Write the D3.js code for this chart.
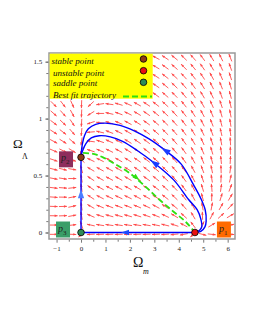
<!DOCTYPE html>
<html>
<head>
<meta charset="utf-8">
<script src="https://cdn.jsdelivr.net/npm/d3@7"></script>
<style>
  body { margin: 0; background: #fff; }
  svg { display: block; }
</style>
</head>
<body>
<div id="chart"></div>
<script>
// tick values
const xTicks = [-1, 0, 1, 2, 3, 4, 5, 6];
const yTicks = [0, 0.5, 1, 1.5];
const yTickLabels = ['0', '0.5', '1', '1.5'];

// critical points: p1 unstable, p2 stable, p3 saddle
const pointNames = ['1', '2', '3'];
const pointX = [4.66, 0, 0];
const pointY = [0, 0.66, 0];
const pointKind = ['unstable', 'stable', 'saddle'];

const legendLabels = ['stable point', 'unstable point', 'saddle point', 'Best fit trajectory'];

// trajectories
const outerX = [4.66, 4.9, 5.07, 5.12, 5.08, 4.9, 4.6, 4.1, 3.45, 2.8, 2.2, 1.6, 1.0, 0.6, 0.3, 0.14, 0.05, 0.01, 0];
const outerY = [0, 0.01, 0.05, 0.1, 0.2, 0.3, 0.42, 0.6, 0.72, 0.82, 0.89, 0.94, 0.96, 0.95, 0.91, 0.85, 0.77, 0.7, 0.66];
const innerX = [4.66, 4.85, 4.94, 4.9, 4.75, 4.4, 3.8, 3.0, 2.3, 1.7, 1.2, 0.75, 0.42, 0.2, 0.07, 0.01, 0];
const innerY = [0, 0.02, 0.05, 0.12, 0.2, 0.29, 0.46, 0.61, 0.72, 0.8, 0.84, 0.85, 0.83, 0.78, 0.72, 0.68, 0.66];
const fitX = [0.08, 0.5, 0.9, 1.4, 2.0, 2.6, 3.2, 3.8, 4.3, 4.66];
const fitY = [0.7, 0.69, 0.66, 0.6, 0.52, 0.41, 0.29, 0.18, 0.09, 0];
const baseX = [4.66, 0];
const baseY = [0, 0];
const sideX = [0, 0];
const sideY = [0, 0.66];

// field parameters of the planar system
const fieldA = 4.7, fieldB = 2, fieldC = 0.65, fieldD = 0.5, fieldS = 0.6;
function field(m, l) {
    return [fieldS * m * (m - fieldA - fieldB * l), l * (fieldC - l + fieldD * m)];
}

const width = 255;
const height = 330;

const x = d3.scaleLinear().domain([-1.31, 6.3]).range([49, 235]);
const y = d3.scaleLinear().domain([-0.057, 1.576]).range([239, 53]);

const svg = d3.select('#chart')
    .append('svg')
        .attr('width', width)
        .attr('height', height);

// direction field
const nGrid = 20;
const gx = d3.range(nGrid).map(i => x.domain()[0] + (i + 0.5) * (x.domain()[1] - x.domain()[0]) / nGrid);
const gy = d3.range(nGrid).map(i => y.domain()[0] + (i + 0.5) * (y.domain()[1] - y.domain()[0]) / nGrid);
const cells = [];
gx.forEach(m => gy.forEach(l => cells.push({ m, l })));

const quiver = svg.append('g');
const len = 8;
cells.forEach(c => {
    const f = field(c.m, c.l);
    let dx = x(c.m + f[0]) - x(c.m);
    let dy = y(c.l + f[1]) - y(c.l);
    const n = Math.hypot(dx, dy) || 1;
    dx /= n; dy /= n;
    const cx = x(c.m), cy = y(c.l);
    const x0 = cx - dx * len / 2, y0 = cy - dy * len / 2;
    const x1 = cx + dx * len / 2, y1 = cy + dy * len / 2;
    quiver.append('line')
        .attr('x1', x0).attr('y1', y0)
        .attr('x2', x1).attr('y2', y1)
        .attr('stroke', '#ff4848')
        .attr('stroke-width', 0.9);
    const px = -dy, py = dx;
    quiver.append('path')
        .attr('d', `M${x1},${y1}L${x1 - dx * 3 + px * 1.2},${y1 - dy * 3 + py * 1.2}L${x1 - dx * 3 - px * 1.2},${y1 - dy * 3 - py * 1.2}Z`)
        .attr('fill', '#ff4848');
});

const line = d3.line()
    .x(d => x(d[0]))
    .y(d => y(d[1]))
    .curve(d3.curveCatmullRom);

function zip(a, b) { return a.map((v, i) => [v, b[i]]); }

function arrowHead(g, p, q, colour, size) {
    const x0 = x(p[0]), y0 = y(p[1]);
    let dx = x(q[0]) - x0, dy = y(q[1]) - y0;
    const n = Math.hypot(dx, dy);
    dx /= n; dy /= n;
    const px = -dy, py = dx;
    const tx = x0 + dx * size, ty = y0 + dy * size;
    g.append('path')
        .attr('d', `M${tx},${ty}L${x0 - dx * size + px * size * 0.7},${y0 - dy * size + py * size * 0.7}L${x0 - dx * size - px * size * 0.7},${y0 - dy * size - py * size * 0.7}Z`)
        .attr('fill', colour);
}

const traj = svg.append('g');

// green best fit trajectory
traj.append('path')
    .attr('d', line(zip(fitX, fitY)))
    .attr('fill', 'none')
    .attr('stroke', '#2ee010')
    .attr('stroke-width', 1.8)
    .attr('stroke-dasharray', '6,3');
arrowHead(traj, [2.28, 0.48], [2.5, 0.44], '#2ee010', 3.5);

[[baseX, baseY], [sideX, sideY], [outerX, outerY], [innerX, innerY]].forEach(t => {
    traj.append('path')
        .attr('d', line(zip(t[0], t[1])))
        .attr('fill', 'none')
        .attr('stroke', '#0000ff')
        .attr('stroke-width', 1.4);
});
arrowHead(traj, [1.8, 0], [1.0, 0], '#1a4cff', 4);
arrowHead(traj, [0, 0.34], [0, 0.5], '#4a7cff', 4.5);
arrowHead(traj, [3.45, 0.72], [3.0, 0.78], '#1a3cff', 4.5);
arrowHead(traj, [3.0, 0.61], [2.6, 0.67], '#1a3cff', 4.5);

// frame
svg.append('rect')
    .attr('x', 49).attr('y', 53)
    .attr('width', 186).attr('height', 186)
    .attr('fill', 'none')
    .attr('stroke', '#999')
    .attr('stroke-width', 1.5);

// axes
svg.append('g')
    .attr('transform', 'translate(0,239.7)')
    .call(d3.axisBottom(x).tickValues(xTicks).tickSize(3).tickFormat(d3.format('d')));
svg.append('g')
    .attr('transform', 'translate(0,239.7)')
    .call(d3.axisBottom(x).tickValues(d3.range(-1, 6.1, 0.5).filter(v => v % 1 !== 0)).tickSize(2).tickFormat(''));
svg.append('g')
    .attr('transform', 'translate(48.3,0)')
    .call(d3.axisLeft(y).tickValues(yTicks).tickSize(3).tickFormat((d, i) => yTickLabels[i]));
svg.append('g')
    .attr('transform', 'translate(48.3,0)')
    .call(d3.axisLeft(y).tickValues(d3.range(0, 1.55, 0.1)).tickSize(2).tickFormat(''));
svg.selectAll('.domain').remove();
svg.selectAll('.tick line').attr('stroke', '#555').attr('stroke-width', 0.8);
svg.selectAll('.tick text')
    .attr('font-family', 'Liberation Serif')
    .attr('font-size', 7)
    .attr('fill', '#222');

// point labels
const boxColour = { '1': '#ff6a00', '2': '#8e2d5c', '3': '#3a9e68' };
const boxOffset = { '1': [22, -11], '2': [-22, -6], '3': [-25, -11] };
const labels = svg.append('g');
pointNames.forEach((name, i) => {
    const bx = x(pointX[i]) + boxOffset[name][0];
    const by = y(pointY[i]) + boxOffset[name][1];
    labels.append('rect')
        .attr('x', bx).attr('y', by)
        .attr('width', 14).attr('height', 16)
        .attr('fill', boxColour[name]);
    const t = labels.append('text')
        .attr('x', bx + 2).attr('y', by + 10)
        .attr('font-family', 'Liberation Serif')
        .attr('font-style', 'italic')
        .attr('font-size', 10)
        .attr('fill', '#222');
    t.append('tspan').text('p');
    t.append('tspan').attr('dy', 3).attr('font-size', 7).attr('font-style', 'normal').text(name);
});

// critical points
const kindColour = { stable: '#8b3a14', unstable: '#e81010', saddle: '#2e8b57' };
svg.append('g').selectAll('circle')
    .data(pointX)
    .enter()
        .append('circle')
            .attr('cx', (d) => x(d))
            .attr('cy', (d, i) => y(pointY[i]))
            .attr('r', 3.3)
            .attr('fill', (d, i) => kindColour[pointKind[i]])
            .attr('stroke', '#000')
            .attr('stroke-width', 0.8);

// legend
const legend = svg.append('g');
legend.append('rect')
    .attr('x', 49.7).attr('y', 53.7)
    .attr('width', 103).attr('height', 45)
    .attr('fill', '#ffff00');
const legendY = [63.5, 75.5, 86, 97.5];
const legendX = [51.5, 53, 53, 53];
legendLabels.forEach((lab, i) => {
    legend.append('text')
        .attr('x', legendX[i]).attr('y', legendY[i])
        .attr('font-family', 'Liberation Serif')
        .attr('font-style', 'italic')
        .attr('font-size', 9)
        .attr('fill', '#111')
        .text(lab);
});
['stable', 'unstable', 'saddle'].forEach((k, i) => {
    legend.append('circle')
        .attr('cx', 143.5).attr('cy', [59, 70.7, 82.3][i])
        .attr('r', 3.3)
        .attr('fill', kindColour[k])
        .attr('stroke', '#000')
        .attr('stroke-width', 0.8);
});
legend.append('line')
    .attr('x1', 123).attr('x2', 152)
    .attr('y1', 96.5).attr('y2', 96.5)
    .attr('stroke', '#2ee010')
    .attr('stroke-width', 1.8)
    .attr('stroke-dasharray', '6,3');

// axis titles
svg.append('text')
    .attr('x', 13).attr('y', 148)
    .attr('font-family', 'Liberation Serif')
    .attr('font-size', 13)
    .attr('fill', '#111')
    .text('Ω');
svg.append('text')
    .attr('x', 22).attr('y', 159)
    .attr('font-family', 'Liberation Serif')
    .attr('font-size', 8)
    .attr('fill', '#111')
    .text('Λ');
svg.append('text')
    .attr('x', 133).attr('y', 267)
    .attr('font-family', 'Liberation Serif')
    .attr('font-size', 14)
    .attr('fill', '#111')
    .text('Ω');
svg.append('text')
    .attr('x', 143).attr('y', 274)
    .attr('font-family', 'Liberation Serif')
    .attr('font-style', 'italic')
    .attr('font-size', 8)
    .attr('fill', '#111')
    .text('m');
</script>
</body>
</html>
